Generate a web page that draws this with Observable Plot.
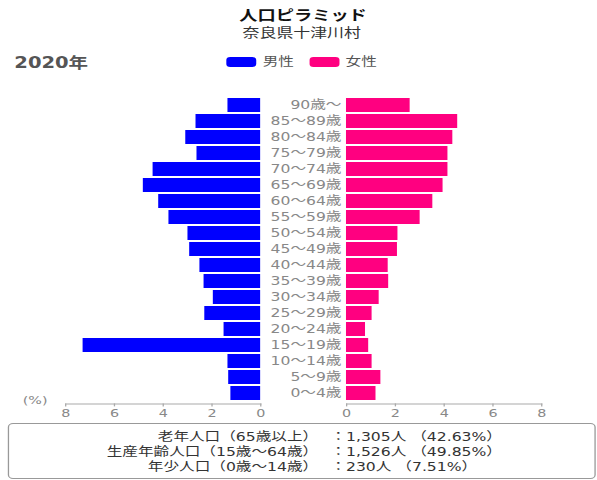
<!DOCTYPE html>
<html><head><meta charset="utf-8">
<script src="https://cdn.jsdelivr.net/npm/d3@7"></script>
<script src="https://cdn.jsdelivr.net/npm/@observablehq/plot@0.6"></script>
<style>
html,body{margin:0;padding:0;background:#fff;}
body{width:597px;height:480px;overflow:hidden;font-family:"DejaVu Sans","Noto Sans CJK JP",sans-serif;}
#stage{position:absolute;left:0;top:0;width:459px;height:480px;transform:scaleX(1.3007);transform-origin:0 0;}
.abs{position:absolute;white-space:nowrap;}
</style></head><body><div id="stage"></div>
<script>
// ---- data ----
const ages = ["90歳〜","85〜89歳","80〜84歳","75〜79歳","70〜74歳","65〜69歳","60〜64歳","55〜59歳","50〜54歳","45〜49歳","40〜44歳","35〜39歳","30〜34歳","25〜29歳","20〜24歳","15〜19歳","10〜14歳","5〜9歳","0〜4歳"];
const male   = [1.34,2.65,3.07,2.61,4.41,4.81,4.18,3.76,2.98,2.91,2.49,2.32,1.94,2.29,1.50,7.28,1.34,1.31,1.22];
const female = [2.61,4.56,4.36,4.16,4.16,3.96,3.54,3.02,2.11,2.09,1.71,1.73,1.34,1.05,0.78,0.91,1.05,1.41,1.21];
const xTicks = [0,2,4,6,8];
const titleText = "人口ピラミッド";
const subtitleText = "奈良県十津川村";
const yearText = "2020年";
const unitText = "(%)";
const seriesNames = ["男性","女性"];
const seriesColors = ["#0000ff","#ff0080"];
const summaryLabels = ["老年人口（65歳以上）","生産年齢人口（15歳〜64歳）","年少人口（0歳〜14歳）"];
const summaryCounts = ["1,305人","1,526人","230人"];
const summaryShares = ["42.63%","49.85%","7.51%"];

const maleData = ages.map((a,i)=>({age:a, value:male[i]}));
const femaleData = ages.map((a,i)=>({age:a, value:female[i]}));

const stage = document.getElementById("stage");
function addDiv(text, css){
  const d = document.createElement("div");
  d.className = "abs";
  d.textContent = text;
  Object.assign(d.style, css);
  stage.appendChild(d);
  return d;
}
const FONT = "DejaVu Sans, Noto Sans CJK JP, sans-serif";

// header
addDiv(titleText,{left:"0px",width:"466px",textAlign:"center",top:"8px",lineHeight:"14px",fontSize:"14px",fontWeight:"bold",color:"#111"});
addDiv(subtitleText,{left:"0px",width:"464px",textAlign:"center",top:"26px",lineHeight:"13px",fontSize:"13px",color:"#333"});
addDiv(yearText,{left:"11px",top:"56px",lineHeight:"15px",fontSize:"15px",fontWeight:"bold",color:"#555"});
// legend
const legX = [174, 237.7];
seriesNames.forEach((n,i)=>{
  const sw = addDiv("",{left:legX[i]+"px",top:"57px",width:"23px",height:"10px",background:seriesColors[i],borderRadius:"3px"});
  addDiv(n,{left:(legX[i]+28)+"px",top:"55px",lineHeight:"14px",fontSize:"12px",color:"#555"});
});

const common = {
  height:343, marginTop:14.6, marginBottom:19.6,
  style:{fontFamily:FONT, fontSize:"11px", background:"transparent", overflow:"visible"}
};
const yOpt = {domain:ages, paddingInner:0.15, paddingOuter:0.07, label:null};

const left = Plot.plot({
  ...common, width:208, marginLeft:50, marginRight:8,
  x:{domain:[0,8], reverse:true, label:null},
  y:{...yOpt, axis:null},
  marks:[
    Plot.barX(maleData,{x:"value", y:"age", fill:seriesColors[0]}),
    Plot.frame({anchor:"bottom", stroke:"#aaa"}),
    Plot.axisX({ticks:xTicks, tickSize:3, tickPadding:2, stroke:"#aaa", fill:"#888", fontSize:11, label:null}),
    Plot.text([unitText],{text:d=>d, frameAnchor:"bottom-left", textAnchor:"end", dx:-14, fill:"#888", fontSize:11})
  ]
});
const right = Plot.plot({
  ...common, width:251, marginLeft:58, marginRight:43,
  x:{domain:[0,8], label:null},
  y:{...yOpt},
  marks:[
    Plot.barX(femaleData,{x:"value", y:"age", fill:seriesColors[1]}),
    Plot.frame({anchor:"bottom", stroke:"#aaa"}),
    Plot.axisX({ticks:xTicks, tickSize:3, tickPadding:2, stroke:"#aaa", fill:"#888", fontSize:11, label:null}),
    Plot.axisY({tickSize:0, tickPadding:4, fill:"#888", fontSize:12, label:null})
  ]
});
[left,right].forEach((svg,i)=>{
  svg.style.position="absolute";
  svg.style.top="80px";
  svg.style.left=(i===0?0:208)+"px";
  stage.appendChild(svg);
});

// summary box
addDiv("",{left:"6.2px",top:"423px",width:"451.5px",height:"56px",boxSizing:"border-box",border:"1px solid #999",borderRadius:"4px"});
summaryLabels.forEach((l,i)=>{
  const top = (429.5 + i*15)+"px";
  addDiv(l,{left:"0px",width:"244.6px",textAlign:"right",top,lineHeight:"15px",fontSize:"12px",color:"#333"});
  addDiv("：" + summaryCounts[i] + " （" + summaryShares[i] + "）",{left:"254px",top,lineHeight:"15px",fontSize:"12px",color:"#333"});
});
</script>
</body></html>
